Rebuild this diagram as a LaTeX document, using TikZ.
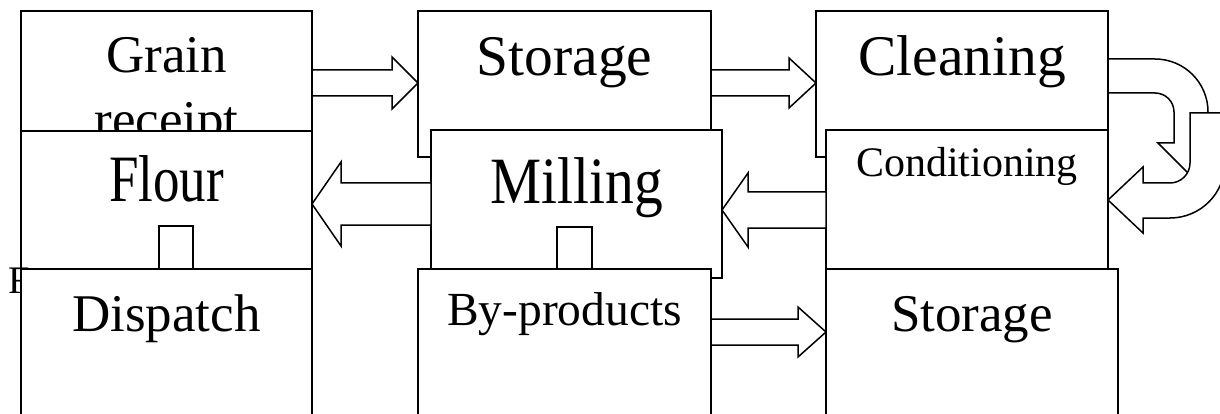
\documentclass[tikz,border=0pt]{standalone}
\usepackage{fontspec}
\setmainfont{Liberation Serif}
\usetikzlibrary{calc}

% straight block arrow: start, tip, half shaft, half head, head length, direction (1 right, -1 left)
\newcommand{\hblock}[6]{%
  \draw[blk] ($(#1)+(0,-#3)$) -- ($(#2)+({-(#6)*#5},-#3)$) -- ($(#2)+({-(#6)*#5},-#4)$) -- (#2)
    -- ($(#2)+({-(#6)*#5},#4)$) -- ($(#2)+({-(#6)*#5},#3)$) -- ($(#1)+(0,#3)$) -- cycle;}

\begin{document}
\begin{tikzpicture}[
    x=1pt, y=-1pt,
    box/.style={draw, fill=white, line width=1.5pt, inner sep=0pt, outer sep=0pt, anchor=north west},
    lbl/.style={inner sep=0pt, anchor=base},
    txtA/.style={lbl, font=\fontsize{53}{64}\selectfont},
    txtB/.style={lbl, font=\fontsize{57.5}{69}\selectfont},
    txtC/.style={lbl, font=\fontsize{47.5}{57}\selectfont},
    txtD/.style={lbl, font=\fontsize{42}{50}\selectfont},
    blk/.style={draw, fill=white, line width=1.5pt},
]
\useasboundingbox (0,0) rectangle (1220,414);
\clip (0,0) rectangle (1220,414);
% ============================================================
% ROW 1:  Grain receipt -> Storage -> Cleaning
% ============================================================
\foreach \name/\x/\y/\w/\h in {receipt/21/11/291/146, storeA/418/11/293/146, clean/816/11/292/146}
    \node[box, minimum width=\w pt, minimum height=\h pt] (\name) at (\x,\y) {};
\node[txtA] (grainT) at ($(receipt.north)+(0,62)$) {Grain};
\node[txtA] (receiptT) at ($(receipt.north)+(0,127)$) {receipt};
\node[txtB] (storeAT) at ($(storeA.north)+(0,65)$) {Storage};
\node[txtB] (cleanT) at ($(clean.north)+(0,65)$) {Cleaning};
% --- arrows ---
\coordinate (a1s) at (receipt.east |- 0,83);
\coordinate (a1t) at (storeA.west |- 0,83);
\hblock{a1s}{a1t}{13}{26}{26}{1}
\coordinate (a2s) at (storeA.east |- 0,83);
\coordinate (a2t) at (clean.west |- 0,83);
\hblock{a2s}{a2t}{13}{25}{27}{1}
% ============================================================
% ROW 2:  Flour <- Milling <- Conditioning
% ============================================================
\foreach \name/\x/\y/\w/\h in {flour/21/131/291/147, mill/431/130/291/148, cond/826/130/282/148}
    \node[box, minimum width=\w pt, minimum height=\h pt] (\name) at (\x,\y) {};
\node[txtA] (flourT) at ($(flour.north)+(0,70)$) {\scalebox{1}[1.25]{Flour}};
\node[txtB] (millT) at ($(mill.north)+(0,74)$) {\scalebox{1}[1.15]{Milling}};
\node[txtD] (condT) at ($(cond.north)+(0,47)$) {Conditioning};
% --- U-turn arrows (Cleaning -> Conditioning) ---
\draw[blk] (clean.east |- 0,59) -- (1155,59) .. controls (1184.3,59) and (1208,82.7) .. (1208,112)
    -- (1208,143) -- (1224,143) -- (1191,176) -- (1158,143) -- (1174,143) -- (1174,112)
    .. controls (1174,101.5) and (1165.5,93) .. (1155,93) -- (clean.east |- 0,93) -- cycle;
\draw[blk] (1190,113) -- (1190,163) .. controls (1190,174) and (1181,183) .. (1170,183)
    -- (1143,183) -- (1143,167) -- (cond.east |- 0,200) -- (1143,233) -- (1143,218) -- (1170,218)
    .. controls (1200.4,218) and (1225,193.4) .. (1225,163) -- (1225,113) -- cycle;
% --- arrows ---
\coordinate (a3s) at (cond.west |- 0,210);
\coordinate (a3t) at (mill.east |- 0,210);
\hblock{a3s}{a3t}{18}{37}{26}{-1}
\coordinate (a4s) at (mill.west |- 0,204);
\coordinate (a4t) at (flour.east |- 0,204);
\hblock{a4s}{a4t}{21}{42}{29}{-1}
% --- small tabs ---
\node[box, minimum width=34pt, minimum height=43pt] (flourTab) at (159,226) {};
\node[box, minimum width=35pt, minimum height=42pt] (millTab) at (557,227) {};
\node[lbl, anchor=base west, font=\fontsize{39}{47}\selectfont] (fT) at (8,293) {F};
% ============================================================
% ROW 3:  Dispatch    By-products -> Storage
% ============================================================
\foreach \name/\x/\y/\w/\h in {dispatch/21/269/291/170, byprod/418/269/293/170, storeB/826/269/292/170}
    \node[box, minimum width=\w pt, minimum height=\h pt] (\name) at (\x,\y) {};
\node[txtA] (dispatchT) at ($(dispatch.north)+(0,62)$) {Dispatch};
\node[txtC] (byprodT) at ($(byprod.north)+(0,56)$) {By-products};
\node[txtA] (storeBT) at ($(storeB.north)+(0,62)$) {Storage};
\coordinate (a5s) at (byprod.east |- 0,332);
\coordinate (a5t) at (storeB.west |- 0,332);
\hblock{a5s}{a5t}{13}{25}{28}{1}
\end{tikzpicture}
\end{document}
